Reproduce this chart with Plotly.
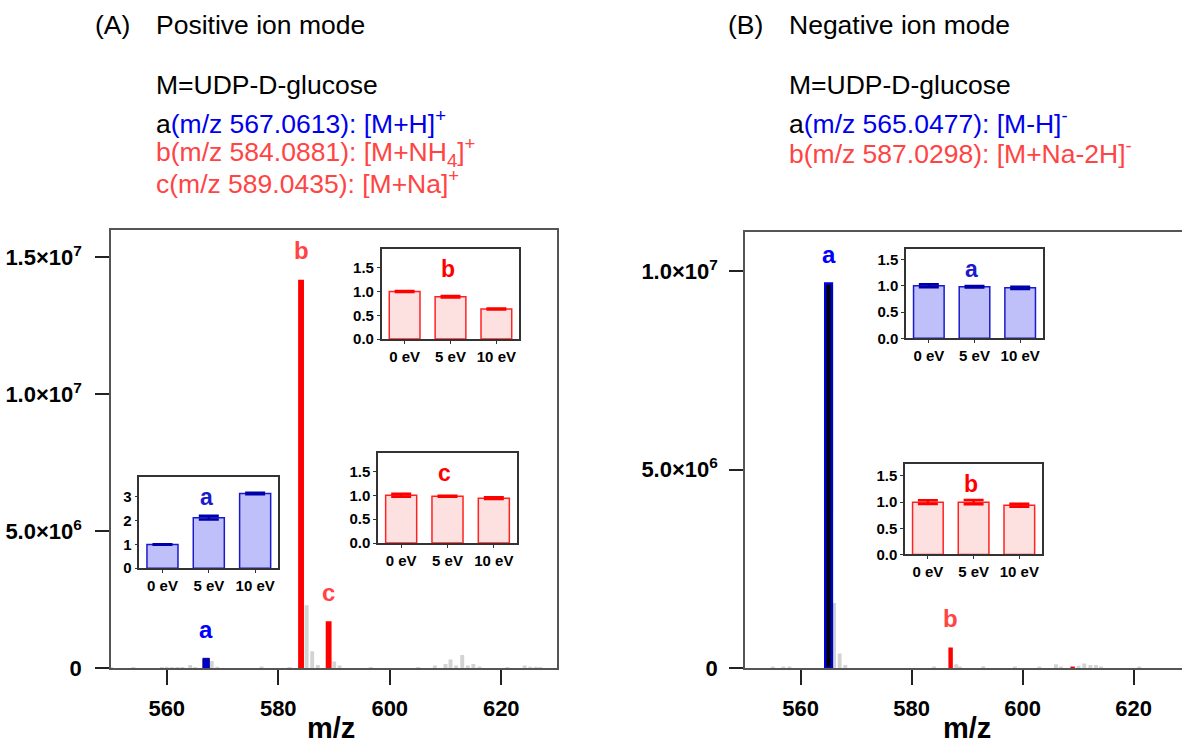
import plotly.graph_objects as go

W, H = 1182, 748

# ---------------- data ----------------
# Panel A (positive ion mode) spectrum
pos_gray_mz = [550.0, 554.0, 559.1, 560.0, 560.9, 561.9, 562.8, 564.2, 565.1, 568.06, 569.05,
               577.0, 582.0, 585.09, 586.09, 587.1, 590.04, 591.0, 596.6, 605.1, 608.1, 610.0,
               610.9, 611.9, 613.0, 614.0, 615.0, 616.1, 621.1, 624.2, 625.2, 626.2, 627.0]
pos_gray_int = [3e4, 3e4, 3e4, 5e4, 4e4, 3e4, 4e4, 1.2e5, 4e4, 2.6e5, 5e4,
                6e4, 3e4, 2.3e6, 6.2e5, 1.2e5, 2.4e5, 1e5, 3e4, 4e4, 1e5, 1.5e5,
                3.2e5, 1e5, 4.8e5, 1e5, 1.5e5, 6e4, 3e4, 1e5, 5e4, 5e4, 4e4]
pos_a_mz, pos_a_int = [567.06], [3.6e5]
pos_bc_mz, pos_bc_int = [584.09, 589.04], [1.418e7, 1.71e6]

# Panel B (negative ion mode) spectrum
neg_gray_mz = [555.0, 556.9, 558.0, 566.05, 567.05, 568.05, 584.05, 588.03, 588.7, 592.9,
               598.6, 603.0, 606.0, 606.9, 610.1, 611.1, 612.2, 613.2, 614.1, 621.0]
neg_gray_int = [3e4, 3e4, 3e4, 1.64e6, 3.7e5, 8e4, 3e4, 1e5, 3e4, 5e4,
                3e4, 3e4, 1e5, 4e4, 6e4, 1.2e5, 8e4, 8e4, 4e4, 4e4]
neg_a_mz, neg_a_int = [565.05], [9.69e6]
neg_b_mz, neg_b_int = [587.03, 609.0], [5.2e5, 4e4]

# Insets (relative intensity vs collision energy)
ev_labels = ["0 eV", "5 eV", "10 eV"]
pos_a_rel, pos_a_err = [1.0, 2.13, 3.15], [0.01, 0.08, 0.03]
pos_b_rel, pos_b_err = [1.0, 0.89, 0.63], [0.01, 0.015, 0.01]
pos_c_rel, pos_c_err = [1.0, 0.98, 0.94], [0.03, 0.01, 0.02]
neg_a_rel, neg_a_err = [1.0, 0.98, 0.96], [0.03, 0.015, 0.02]
neg_b_rel, neg_b_err = [1.0, 1.0, 0.94], [0.035, 0.04, 0.03]

main_ytick_vals_A = [0, 5e6, 1e7, 1.5e7]
main_ytick_text_A = ["0", "5.0×10<sup>6</sup>", "1.0×10<sup>7</sup>", "1.5×10<sup>7</sup>"]
main_ytick_vals_B = [0, 5e6, 1e7]
main_ytick_text_B = ["0", "5.0×10<sup>6</sup>", "1.0×10<sup>7</sup>"]
mz_ticks = [560, 580, 600, 620]

# ---------------- helpers ----------------
FONT = "Liberation Sans, Arial, sans-serif"
BLUE = "#0000ee"
RED_T = "#ff4444"
GRAY = "#d3d3d3"

def dx(a, b):
    return [a / W, b / W]

def dy(top, bottom):
    return [(H - bottom) / H, (H - top) / H]

def bold(lst):
    return [f"<b>{s}</b>" for s in lst]

fig = go.Figure()

def add_bars(x, y, color, width, xa, ya, line_color=None, line_w=0):
    fig.add_trace(go.Bar(x=x, y=y, width=width, marker=dict(color=color,
                  line=dict(color=line_color or color, width=line_w)),
                  xaxis=xa, yaxis=ya, showlegend=False, hoverinfo="x+y"))

add_bars(pos_gray_mz, pos_gray_int, GRAY, 0.7, "x", "y")
add_bars(pos_a_mz, pos_a_int, "#0000cc", 1.15, "x", "y", "#000088", 1)
add_bars(pos_bc_mz, pos_bc_int, "#ff0000", 1.05, "x", "y")

add_bars(neg_gray_mz, neg_gray_int, GRAY, 0.7, "x2", "y2")
add_bars(neg_a_mz, neg_a_int, "#000000", 1.2, "x2", "y2", "#0000dd", 2.5)
add_bars(neg_b_mz, neg_b_int, "#ff0000", 0.8, "x2", "y2")

def add_inset(n, vals, errs, fill, edge, errc):
    fig.add_trace(go.Bar(x=ev_labels, y=vals, xaxis=f"x{n}", yaxis=f"y{n}",
                         marker=dict(color=fill, line=dict(color=edge, width=1.5)),
                         error_y=dict(type="data", array=errs, color=errc, thickness=2.5, width=10),
                         showlegend=False))

LB, LB_E = "#bfbff9", "#1a1acc"
LR, LR_E = "#fde0e0", "#ff2222"
add_inset(3, pos_a_rel, pos_a_err, LB, LB_E, "#0000aa")
add_inset(4, pos_b_rel, pos_b_err, LR, LR_E, "#ff0000")
add_inset(5, pos_c_rel, pos_c_err, LR, LR_E, "#ff0000")
add_inset(6, neg_a_rel, neg_a_err, LB, LB_E, "#0000aa")
add_inset(7, neg_b_rel, neg_b_err, LR, LR_E, "#ff0000")

frame = "#555555"
tickf = dict(family=FONT, size=22, color="black", weight="bold")
main_x = dict(showline=True, linecolor=frame, linewidth=1.5, mirror=True, ticks="outside",
              ticklen=15, tickwidth=1.5, tickcolor="#222", tickvals=mz_ticks,
              ticktext=bold([str(v) for v in mz_ticks]), ticklabelstandoff=5,
              tickfont=tickf, showgrid=False, zeroline=False)
main_y = dict(showline=True, linecolor=frame, linewidth=1.5, ticks="outside", ticklen=14,
              tickwidth=1.5, tickcolor="#222", tickfont=tickf, showgrid=False, zeroline=False)

inset_tf = dict(family=FONT, size=15, color="black", weight="bold")
def inset_axes(n, xd, yd, ymax, tvals, ttext):
    fig.layout[f"xaxis{n}"] = dict(domain=xd, anchor=f"y{n}", showline=True, linecolor="#333",
                                   linewidth=1.5, mirror=True, ticks="outside", ticklen=3,
                                   tickwidth=1, tickcolor="#333", tickfont=inset_tf,
                                   showgrid=False, zeroline=False, range=[-0.5, 2.5],
                                   type="category", tickvals=ev_labels, ticktext=bold(ev_labels),
                                   ticklabelstandoff=0)
    fig.layout[f"yaxis{n}"] = dict(domain=yd, anchor=f"x{n}", showline=True, linecolor="#333",
                                   linewidth=1.5, mirror=True, ticks="outside", ticklen=3,
                                   tickwidth=1, tickcolor="#333", tickfont=inset_tf,
                                   showgrid=False, zeroline=False, range=[0, ymax],
                                   tickvals=tvals, ticktext=bold(ttext), ticklabelstandoff=0)

fig.update_layout(
    width=W, height=H, margin=dict(l=0, r=0, t=0, b=0),
    paper_bgcolor="white", plot_bgcolor="rgba(0,0,0,0)",
    barmode="overlay", bargap=0.33, showlegend=False,
    xaxis=dict(domain=dx(111, 557), anchor="y", range=[550, 630], **main_x),
    yaxis=dict(domain=dy(234, 680), anchor="x", range=[0, 1.6e7], mirror=True,
               tickvals=main_ytick_vals_A, ticktext=bold(main_ytick_text_A), ticklabelstandoff=9, **main_y),
    xaxis2=dict(domain=dx(745, 1182), anchor="y2", range=[550, 628.7], **main_x),
    yaxis2=dict(domain=dy(235.7, 680), anchor="x2", range=[0, 1.1e7], mirror=False,
                tickvals=main_ytick_vals_B, ticktext=bold(main_ytick_text_B), ticklabelstandoff=7, **main_y),
)

r_tv = [0, 0.5, 1.0, 1.5]
r_tt = ["0.0", "0.5", "1.0", "1.5"]
inset_axes(3, dx(139.3, 278.3), dy(485.7, 578.3), 3.83, [0, 1, 2, 3], ["0", "1", "2", "3"])
inset_axes(4, dx(381.7, 519.3), dy(253.7, 345), 1.89, r_tv, r_tt)
inset_axes(5, dx(378, 517), dy(460.7, 552.7), 1.89, r_tv, r_tt)
inset_axes(6, dx(906, 1043), dy(253.3, 344.3), 1.70, r_tv, r_tt)
inset_axes(7, dx(905, 1042.2), dy(472.7, 564.3), 1.72, r_tv, r_tt)

ann = []
def text(xp, yp, s, size, color="black", xanchor="left", yanchor="middle"):
    ann.append(dict(x=xp / W, y=(H - yp) / H, xref="paper", yref="paper", text=s, showarrow=False,
                    xanchor=xanchor, yanchor=yanchor,
                    font=dict(family=FONT, size=size, color=color)))

TS = 26.5
text(93, 25, "(A)", TS)
text(154, 25, "Positive ion mode", TS)
text(154, 86, "M=UDP-D-glucose", TS)
text(154, 124, f"a<span style='color:{BLUE}'>(m/z 567.0613): [M+H]<sup>+</sup></span>", TS)
text(154, 155, "b(m/z 584.0881): [M+NH<sub>4</sub>]<sup>+</sup>", TS, RED_T)
text(154, 185, "c(m/z 589.0435): [M+Na]<sup>+</sup>", TS, RED_T)

text(726, 25, "(B)", TS)
text(787, 25, "Negative ion mode", TS)
text(787, 86, "M=UDP-D-glucose", TS)
text(787, 124, f"a<span style='color:{BLUE}'>(m/z 565.0477): [M-H]<sup>-</sup></span>", TS)
text(787, 155, "b(m/z 587.0298): [M+Na-2H]<sup>-</sup>", TS, RED_T)

# axis titles (cut by the bottom edge, as in the original)
text(331, 723, "<b>m/z</b>", 29, xanchor="center", yanchor="top")
text(967, 723, "<b>m/z</b>", 29, xanchor="center", yanchor="top")

def peak_label(xa, ya, x, y, s, color):
    ann.append(dict(x=x, y=y, xref=xa, yref=ya, text=f"<b>{s}</b>", showarrow=False, yshift=29,
                    xanchor="center", yanchor="middle",
                    font=dict(family=FONT, size=24, color=color)))

peak_label("x", "y", pos_a_mz[0], pos_a_int[0], "a", "#0000ff")
peak_label("x", "y", pos_bc_mz[0], pos_bc_int[0], "b", RED_T)
peak_label("x", "y", pos_bc_mz[1], pos_bc_int[1], "c", RED_T)
peak_label("x2", "y2", neg_a_mz[0], neg_a_int[0], "a", "#0000ff")
peak_label("x2", "y2", neg_b_mz[0], neg_b_int[0], "b", RED_T)

def inset_label(n, s, color):
    ann.append(dict(x=0.48, y=0.78, xref=f"x{n} domain", yref=f"y{n} domain", text=f"<b>{s}</b>",
                    showarrow=False, xanchor="center", yanchor="middle",
                    font=dict(family=FONT, size=23, color=color)))

inset_label(3, "a", "#1a1acc")
inset_label(4, "b", "#ff0000")
inset_label(5, "c", "#ff0000")
inset_label(6, "a", "#1a1acc")
inset_label(7, "b", "#ff0000")

fig.update_layout(annotations=ann)
fig.write_html("out.html")
